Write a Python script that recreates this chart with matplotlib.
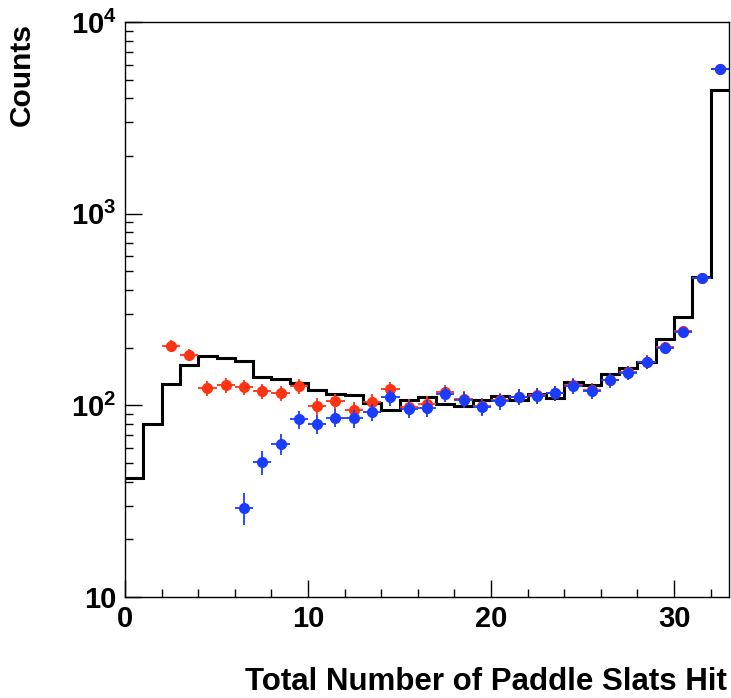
import numpy as np
import matplotlib
matplotlib.use("Agg")
import matplotlib.pyplot as plt
from matplotlib.ticker import FixedLocator, FixedFormatter, NullFormatter

# ROOT-like look: Helvetica bold -> Liberation Sans bold
plt.rcParams['font.family'] = 'Liberation Sans'
plt.rcParams['font.weight'] = 'bold'
plt.rcParams['mathtext.fontset'] = 'custom'
plt.rcParams['mathtext.rm'] = 'Liberation Sans:bold'
plt.rcParams['mathtext.bf'] = 'Liberation Sans:bold'

# histogram (black line), one value per slat bin 0..33
bin_edges = np.arange(0, 34)
hist_counts = [42, 80, 129, 162, 181, 176, 171, 141, 137, 131, 120, 115, 113,
               103, 94.5, 107, 110, 102, 99, 107, 112, 107, 114, 109, 133, 128,
               146, 156, 169, 223, 290, 467, 4415]

# red points
red_x = [2.5, 3.5, 4.5, 5.5, 6.5, 7.5, 8.5, 9.5, 10.5, 11.5, 12.5, 13.5, 14.5,
         15.5, 16.5, 17.5, 18.5, 19.5, 20.5, 21.5, 22.5, 23.5, 24.5, 25.5,
         26.5, 27.5, 28.5, 29.5, 30.5, 31.5, 32.5]
red_y = [204, 183, 123, 127, 125, 119, 116, 126, 99, 105, 94, 104, 121,
         98, 102, 117, 108, 99, 106, 111, 113, 116, 127, 120,
         136, 149, 169, 201, 243, 464, 5680]

# blue points
blue_x = [6.5, 7.5, 8.5, 9.5, 10.5, 11.5, 12.5, 13.5, 14.5, 15.5, 16.5, 17.5,
          18.5, 19.5, 20.5, 21.5, 22.5, 23.5, 24.5, 25.5, 26.5, 27.5, 28.5,
          29.5, 30.5, 31.5, 32.5]
blue_y = [29.3, 50.5, 62.7, 84.5, 80, 86, 85.6, 92.6, 110, 95.7, 96.5, 114.6,
          107, 98.4, 105, 111, 112, 115.6, 126, 119, 135, 148, 168,
          200, 242, 463, 5660]

red_col = '#ff3311'
blue_col = '#1a3cff'

fig = plt.figure(figsize=(7.31, 6.98), dpi=100)
ax = fig.add_axes([125 / 731, 1 - 597 / 698, 604 / 731, 575 / 698])

ax.stairs(hist_counts, bin_edges, baseline=None, color='black', linewidth=2.2, zorder=2)

ax.errorbar(red_x, red_y, yerr=np.sqrt(red_y), xerr=0.5, fmt='o', color=red_col,
            markersize=7, elinewidth=1.3, capsize=0, zorder=3)
ax.errorbar(blue_x, blue_y, yerr=np.sqrt(blue_y), xerr=0.5, fmt='o', color=blue_col,
            markersize=7, elinewidth=1.3, capsize=0, zorder=4)

ax.set_yscale('log')
ax.set_xlim(0, 33)
ax.set_ylim(10, 10000)

# ticks
ax.xaxis.set_major_locator(FixedLocator([0, 10, 20, 30]))
ax.xaxis.set_minor_locator(FixedLocator(np.arange(0, 33, 2)))
ax.yaxis.set_major_locator(FixedLocator([10, 100, 1000, 10000]))
ax.yaxis.set_major_formatter(FixedFormatter(['10', r'$\mathbf{10^{2}}$',
                                             r'$\mathbf{10^{3}}$', r'$\mathbf{10^{4}}$']))
minor_y = [m * 10 ** d for d in range(1, 4) for m in range(2, 10)]
ax.yaxis.set_minor_locator(FixedLocator(minor_y))
ax.yaxis.set_minor_formatter(NullFormatter())

ax.tick_params(which='both', direction='in', top=False, right=False, width=1.0,
               labelsize=21, pad=6)
ax.tick_params(which='major', length=12.5)
ax.tick_params(which='minor', length=6)

for s in ax.spines.values():
    s.set_linewidth(1.0)

fig.text(727 / 731, 1 - 690 / 698, 'Total Number of Paddle Slats Hit',
         ha='right', va='baseline', fontsize=22.5, fontweight='bold')
fig.text(22 / 731, 1 - 23 / 698, 'Counts', rotation=90, ha='center', va='top',
         fontsize=21.5, fontweight='bold')

fig.savefig('out.png', dpi=100)
